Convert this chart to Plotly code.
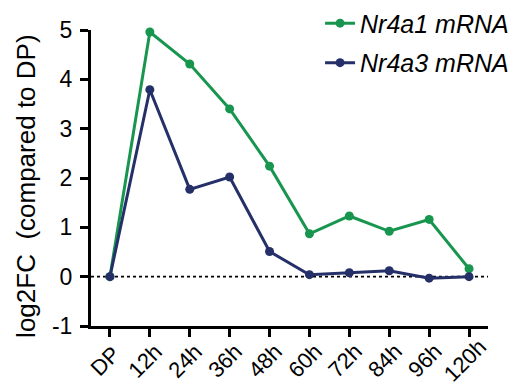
import plotly.graph_objects as go

timepoints = ["DP", "12h", "24h", "36h", "48h", "60h", "72h", "84h", "96h", "120h"]
nr4a1 = [0.0, 4.96, 4.31, 3.40, 2.24, 0.87, 1.23, 0.92, 1.16, 0.16]
nr4a3 = [0.0, 3.79, 1.77, 2.02, 0.51, 0.04, 0.08, 0.12, -0.03, 0.0]
y_ticks = [-1, 0, 1, 2, 3, 4, 5]
y_tick_text = ["-1", "0", "1", "2", "3", "4", "5"]

green = "#18964f"
navy = "#263068"
font = "Liberation Sans, Arial, sans-serif"

x = list(range(len(timepoints)))

fig = go.Figure()
# dotted baseline at zero
fig.add_shape(type="line", xref="paper", yref="y", x0=0, x1=1, y0=0, y1=0,
              line=dict(color="black", width=1.6, dash="dot"), layer="below")
fig.add_trace(go.Scatter(x=x, y=nr4a1, mode="lines+markers", name="Nr4a1 mRNA",
                         legendgroup="a1", cliponaxis=False,
                         line=dict(color=green, width=3), marker=dict(size=9, color=green)))
fig.add_trace(go.Scatter(x=x, y=nr4a3, mode="lines+markers", name="Nr4a3 mRNA",
                         legendgroup="a3", cliponaxis=False,
                         line=dict(color=navy, width=3), marker=dict(size=9, color=navy)))

# category labels rotated about their centres, below each tick
for xi, label in zip(x, timepoints):
    fig.add_annotation(x=xi, y=-0.118, xref="x", yref="paper", text=label,
                       textangle=-45, showarrow=False, xanchor="center",
                       yanchor="middle", xshift=-4,
                       font=dict(size=22, family=font, color="black"))

# y-axis title
fig.add_annotation(x=-0.164, y=0.473, xref="paper", yref="paper",
                   text="log2FC  (compared to DP)", textangle=-90, showarrow=False,
                   xanchor="center", yanchor="middle",
                   font=dict(size=26, family=font, color="black"))

fig.update_layout(
    width=515, height=390,
    margin=dict(l=91, r=27, t=30, b=64, autoexpand=False),
    plot_bgcolor="white", paper_bgcolor="white",
    font=dict(family=font, color="black"),
    legend=dict(x=0.577, y=1.10, xanchor="left", yanchor="top",
                font=dict(size=25, family=font, style="italic"),
                bgcolor="rgba(0,0,0,0)", tracegroupgap=4, itemwidth=30),
    showlegend=True,
)
fig.update_xaxes(
    range=[-0.475, 9.475], tickmode="array", tickvals=x, showticklabels=False,
    showgrid=False, zeroline=False,
    showline=True, linecolor="black", linewidth=3, automargin=False,
    ticks="outside", ticklen=8, tickwidth=3, tickcolor="black",
)
fig.update_yaxes(
    range=[-1, 5], tickmode="array", tickvals=y_ticks, ticktext=y_tick_text,
    tickfont=dict(size=23), showgrid=False, zeroline=False, ticklabelstandoff=3,
    showline=True, linecolor="black", linewidth=3, automargin=False,
    ticks="outside", ticklen=8, tickwidth=3, tickcolor="black",
)

fig.write_html("out.html")
